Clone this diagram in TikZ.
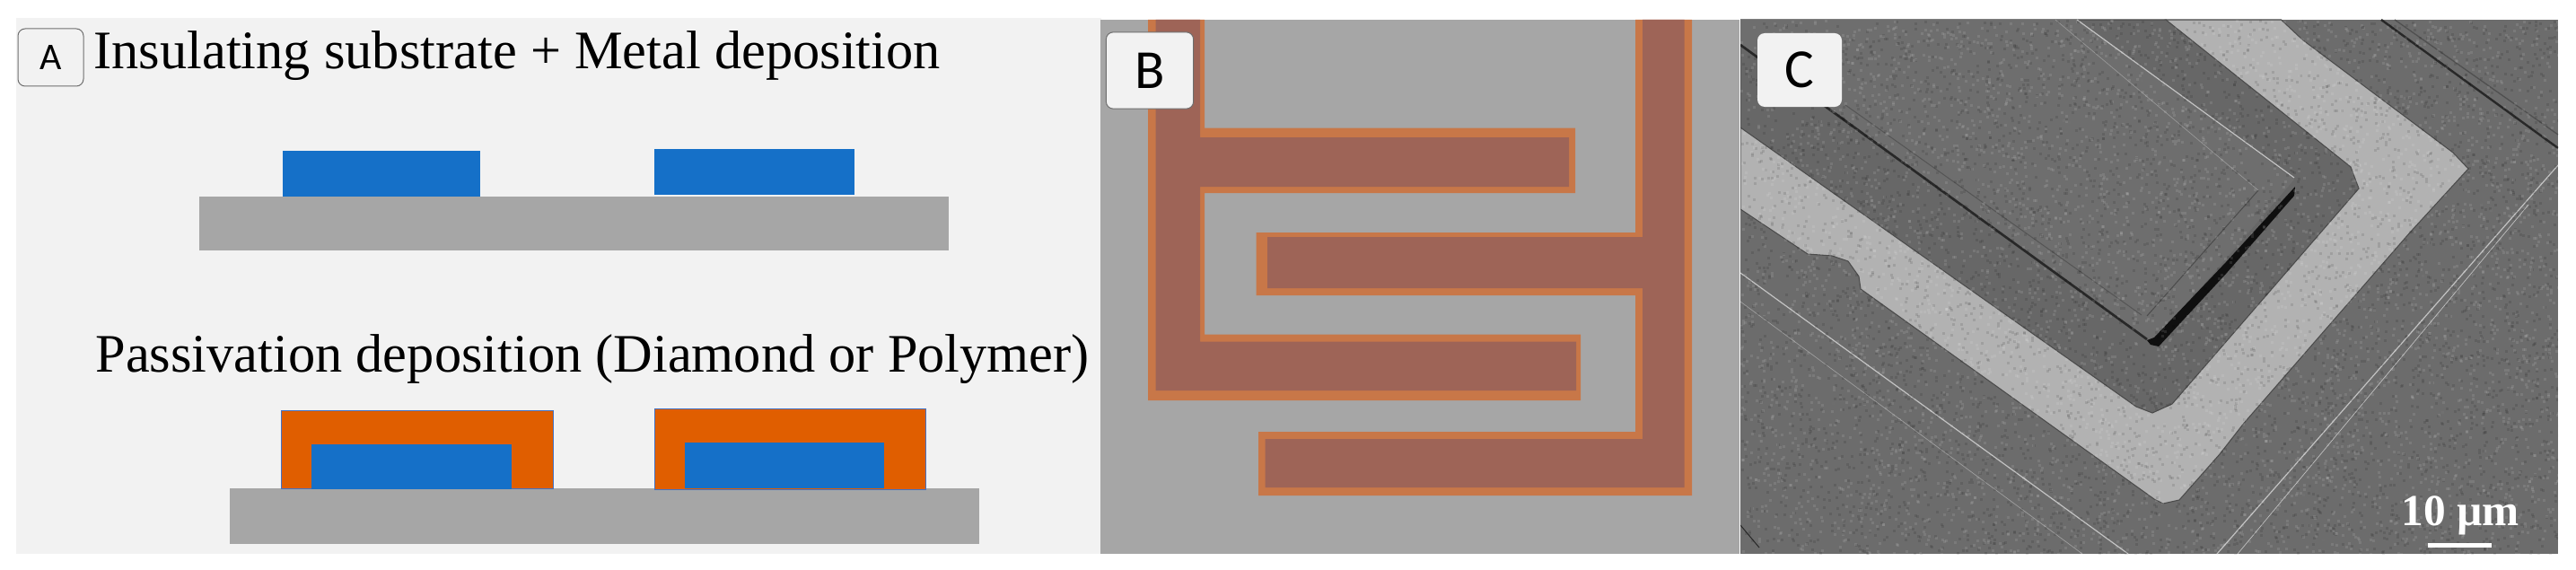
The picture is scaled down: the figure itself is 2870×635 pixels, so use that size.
\documentclass[tikz,border=0pt]{standalone}
\usepackage{fontspec}
\setmainfont{Liberation Serif}
\newfontfamily\labelfont{Carlito}
\tikzset{every picture/.style={line width=0.75pt}}
\tikzset{
  substrate/.style={fill={rgb, 255:red, 166; green, 166; blue, 166 }},
  metal/.style={fill={rgb, 255:red, 21; green, 112; blue, 200 }},
  passivation/.style={fill={rgb, 255:red, 224; green, 94; blue, 0 },draw={rgb, 255:red, 68; green, 114; blue, 196 }},
  coating/.style={fill={rgb, 255:red, 200; green, 119; blue, 72 }},
  finger/.style={fill={rgb, 255:red, 158; green, 100; blue, 87 }},
  panellabel/.style={draw={rgb, 255:red, 110; green, 110; blue, 110 },fill={rgb, 255:red, 242; green, 242; blue, 242 },rounded corners=6pt,inner sep=0pt,font=\labelfont},
  steptitle/.style={anchor=base west,inner sep=0pt,font=\fontsize{45.3}{46}\selectfont},
  hairline/.style={draw={rgb, 255:red, 195; green, 195; blue, 195 },line width=0.9pt},
  grooveline/.style={draw={rgb, 255:red, 40; green, 40; blue, 40 }}
}
\begin{document}
\begin{tikzpicture}[x=0.75pt,y=0.75pt,yscale=-1,xscale=1]
\useasboundingbox (0,0) rectangle (2870,635);

%Shape: Rectangle [panel A]
\fill [fill={rgb, 255:red, 242; green, 242; blue, 242 }] (18,20) rectangle (1227,617);
%Shape: Rectangle [upper stack]
\fill [substrate] (222,219) rectangle (1057,279);
\fill [metal] (315,168) rectangle (535,219);
\fill [metal] (729,166) rectangle (952,217);
%Shape: Rectangle [lower stack]
\fill [substrate] (256,544) rectangle (1091,606);
\path [passivation] (313,457) rectangle (616,544);
\path [passivation] (729,455) rectangle (1031,545);
\fill [metal] (347,495) rectangle (570,545);
\fill [metal] (763,493) rectangle (985,544);

%Shape: Rectangle [panel B]
\fill [substrate] (1226,22) rectangle (1938,617);
%Shape: Polygon [left comb]
\fill [coating] (1279,22) -- (1342,22) -- (1342,142.5) -- (1755,142.5) -- (1755,215) -- (1342,215) -- (1342,372.5) -- (1761,372.5) -- (1761,446) -- (1279,446) -- cycle ;
\fill [finger] (1287.5,22) -- (1337,22) -- (1337,153) -- (1748,153) -- (1748,208) -- (1337,208) -- (1337,380.5) -- (1756,380.5) -- (1756,435) -- (1287.5,435) -- cycle ;
%Shape: Polygon [right comb]
\fill [coating] (1822,22) -- (1885,22) -- (1885,552) -- (1402,552) -- (1402,481) -- (1822,481) -- (1822,329) -- (1399.5,329) -- (1399.5,259) -- (1822,259) -- cycle ;
\fill [finger] (1830,22) -- (1876.5,22) -- (1876.5,543) -- (1409.5,543) -- (1409.5,489) -- (1830,489) -- (1830,321) -- (1412,321) -- (1412,264) -- (1830,264) -- cycle ;

%Shape: Rectangle [panel C]
\begin{scope}
\clip (1939,22) rectangle (2850,617);
\fill [fill={rgb, 255:red, 108; green, 108; blue, 108 }] (1939,22) rectangle (2850,617);
%Shape: Polygon [bright band]
\draw [fill={rgb, 255:red, 178; green, 178; blue, 178 },draw={rgb, 255:red, 75; green, 75; blue, 75 },line width=0.8pt] (1939,233) -- (2014,283) -- (2041,285) -- (2059,291) -- (2071,308) -- (2073,322) -- (2400,556) -- (2410,561) -- (2428,557) -- (2473,506) -- (2499.5,472) -- (2685,259) -- (2750,188) -- (2733,170) -- (2565.5,44.5) -- (2541.5,22) -- (2413,22) -- (1939,142) -- cycle ;
%Shape: Polygon [recess round the plate]
\draw [fill={rgb, 255:red, 103; green, 103; blue, 103 },draw={rgb, 255:red, 75; green, 75; blue, 75 },line width=0.8pt] (1939,142) -- (2380,453) -- (2398,460) -- (2420,450) -- (2628,210) -- (2619,186) -- (2413,22) -- (1939,22) -- cycle ;
%Shape: Polygon [plate]
\fill [fill={rgb, 255:red, 110; green, 110; blue, 110 }] (1939,22) -- (2314,22) -- (2556,200) -- (2398,383) -- (1939,50) -- cycle ;
%Straight Lines [plate edges]
\draw [grooveline,line width=2pt] (1939,50) -- (2392,378) ;
\draw [fill={rgb, 255:red, 15; green, 15; blue, 15 },draw=none] (2557,208) -- (2556,218) -- (2480,305) -- (2405,386) -- (2396,384) -- (2392,379) -- (2400,376) -- (2480,292) -- cycle ;
\draw [hairline] (2314,22) -- (2556,198) ;
\draw [draw={rgb, 255:red, 75; green, 75; blue, 75 }] (2392,352) -- (2516,212) ;
\draw [draw={rgb, 255:red, 85; green, 85; blue, 85 }] (2056,117) -- (2386,351) ;
\draw [hairline,line width=0.5pt,opacity=0.5] (2290,22) -- (2516,212) ;
%Straight Lines [top right plate]
\draw [grooveline,line width=1.8pt] (2653,22) -- (2850,165) ;
\draw [draw={rgb, 255:red, 80; green, 80; blue, 80 },line width=1pt] (2668,22) -- (2850,150) ;
%Straight Lines [scratches]
\draw [hairline] (2850,184) -- (2470,617) ;
\draw [hairline,line width=0.5pt] (2817,228) -- (2493,617) ;
\draw [hairline] (1939,304) -- (2371,617) ;
\draw [hairline,line width=0.5pt,opacity=0.6] (1939,336) -- (2320,617) ;
\draw [grooveline] (1939,585) -- (1960,610) ;
%Shape: grain
\pgfmathsetseed{7}
\begin{scope}[opacity=0.1]
\foreach \i in {1,...,5000} {
  \fill [white] ({1939+911*rnd},{22+595*rnd}) rectangle ++(3,3) ;
  \fill [black] ({1939+911*rnd},{22+595*rnd}) rectangle ++(3,3) ;
}
\end{scope}
\end{scope}
%Shape: Rectangle [scale bar]
\fill [white] (2705,605) rectangle (2776,610);

% Text Node
\draw (104,77) node [steptitle] (titleA) {Insulating substrate + Metal deposition};
% Text Node
\draw (106,414) node [steptitle] (titleB) {Passivation deposition (Diamond or Polymer)};
% Text Node
\draw (56.5,64) node [panellabel,minimum width=54.75pt,minimum height=48pt,font=\labelfont\fontsize{31.5}{32}\selectfont] (labelA) {A};
% Text Node
\draw (1281,78.5) node [panellabel,minimum width=73pt,minimum height=64pt,font=\labelfont\fontsize{46}{46}\selectfont] (labelB) {B};
% Text Node
\draw (2005,78) node [panellabel,draw=none,minimum width=70.5pt,minimum height=61.5pt,font=\labelfont\fontsize{46}{46}\selectfont] (labelC) {C};
% Text Node
\draw (2741,585) node [anchor=base,inner sep=0pt,text=white,font=\bfseries\fontsize{37}{37}\selectfont] (scaletext) {10 µm};
\end{tikzpicture}
\end{document}
